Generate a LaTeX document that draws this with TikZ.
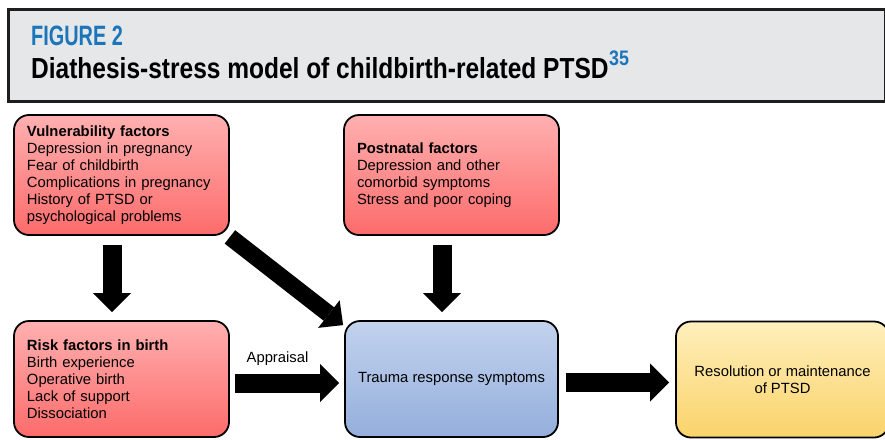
\documentclass[tikz,border=0pt]{standalone}
\usepackage{fontspec}
\setmainfont{Liberation Sans}
\usetikzlibrary{arrows.meta,calc}
\definecolor{hdrgray}{HTML}{E6E7E8}
\definecolor{hdrline}{HTML}{1E1E1E}
\definecolor{figblue}{HTML}{1B75BB}
\definecolor{redtop}{HTML}{FFB0B0}
\definecolor{redbot}{HTML}{FD6B6B}
\definecolor{bluetop}{HTML}{C2D2EE}
\definecolor{bluebot}{HTML}{94AFDC}
\definecolor{yeltop}{HTML}{FFEFBC}
\definecolor{yelbot}{HTML}{FAD36A}
\tikzset{
  boxbase/.style={draw=black, line width=1.8pt, rounded corners=15pt, minimum width=215pt, inner sep=0pt},
  redbox/.style={boxbase, top color=redtop, bottom color=redbot, minimum height=120pt,
    text width=189pt, align=left, font=\fontsize{14.8}{17}\selectfont},
  bluebox/.style={boxbase, top color=bluetop, bottom color=bluebot, minimum height=116pt, minimum width=213pt,
    align=center, font=\fontsize{14.8}{17}\selectfont},
  yelbox/.style={boxbase, top color=yeltop, bottom color=yelbot, minimum height=116pt, minimum width=213pt,
    align=center, font=\fontsize{14.8}{17}\selectfont},
  bigarrow/.style={line width=19pt, line cap=butt, black,
    -{Triangle[length=19pt,width=38pt,line width=0pt]}},
  diagarrow/.style={line width=17pt, line cap=butt, black,
    -{Triangle[length=18pt,width=35pt,line width=0pt]}},
}
\begin{document}
\begin{tikzpicture}[x=1pt,y=-1pt]
\useasboundingbox (0,0) rectangle (885,439);
% header
\node[draw=hdrline, line width=2.5pt, fill=hdrgray, minimum width=877pt, minimum height=92pt,
  inner sep=0pt, anchor=north west] (hdr) at (7,8) {};
\node[anchor=base west, inner sep=0pt, text=figblue] (figlbl) at (31,45)
  {\fontsize{28}{28}\selectfont\bfseries\scalebox{0.71}[1]{FIGURE 2}};
\node[anchor=base west, inner sep=0pt] (title) at (31,78)
  {\fontsize{29}{29}\selectfont\bfseries\scalebox{0.845}[1]{Diathesis-stress model of childbirth-related PTSD}};
\node[anchor=base west, inner sep=0pt, text=figblue] (sup) at (609,65)
  {\fontsize{21}{21}\selectfont\bfseries\scalebox{0.85}[1]{35}};
% boxes
\node[redbox] (vul) at (121.5,175) {\textbf{Vulnerability factors}\\Depression in pregnancy\\Fear of childbirth\\Complications in pregnancy\\History of PTSD or\\psychological problems};
\node[redbox] (post) at (451.5,175) {\textbf{Postnatal factors}\\Depression and other\\comorbid symptoms\\Stress and poor coping};
\node[redbox, minimum height=116pt] (risk) at (121.5,379) {\textbf{Risk factors in birth}\\Birth experience\\Operative birth\\Lack of support\\Dissociation};
\node[bluebox] (trauma) at (451.5,379) {Trauma response symptoms};
\node[yelbox] (res) at (782.5,379.5) {Resolution or maintenance\\of PTSD};
% arrows
\draw[bigarrow] ($(vul.south)+(-9.5,9)$) -- ($(risk.north)+(-9.5,-8)$);
\draw[bigarrow] ($(post.south)+(-9.5,9)$) -- ($(trauma.north)+(-9.5,-8)$);
\draw[diagarrow] ($(vul.south east)+(0,1)$) -- ($(trauma.north west)+(-1,5)$);
\draw[bigarrow] ($(risk.east)+(5,4)$) -- coordinate[pos=0.4] (apmid) ($(trauma.west)+(-5,4)$);
\draw[bigarrow] ($(trauma.east)+(7,3.5)$) -- ($(res.west)+(-6,3)$);
\node[font=\fontsize{14.8}{17}\selectfont, inner sep=0pt] (appr) at (277.5,359) {Appraisal};
\end{tikzpicture}
\end{document}
